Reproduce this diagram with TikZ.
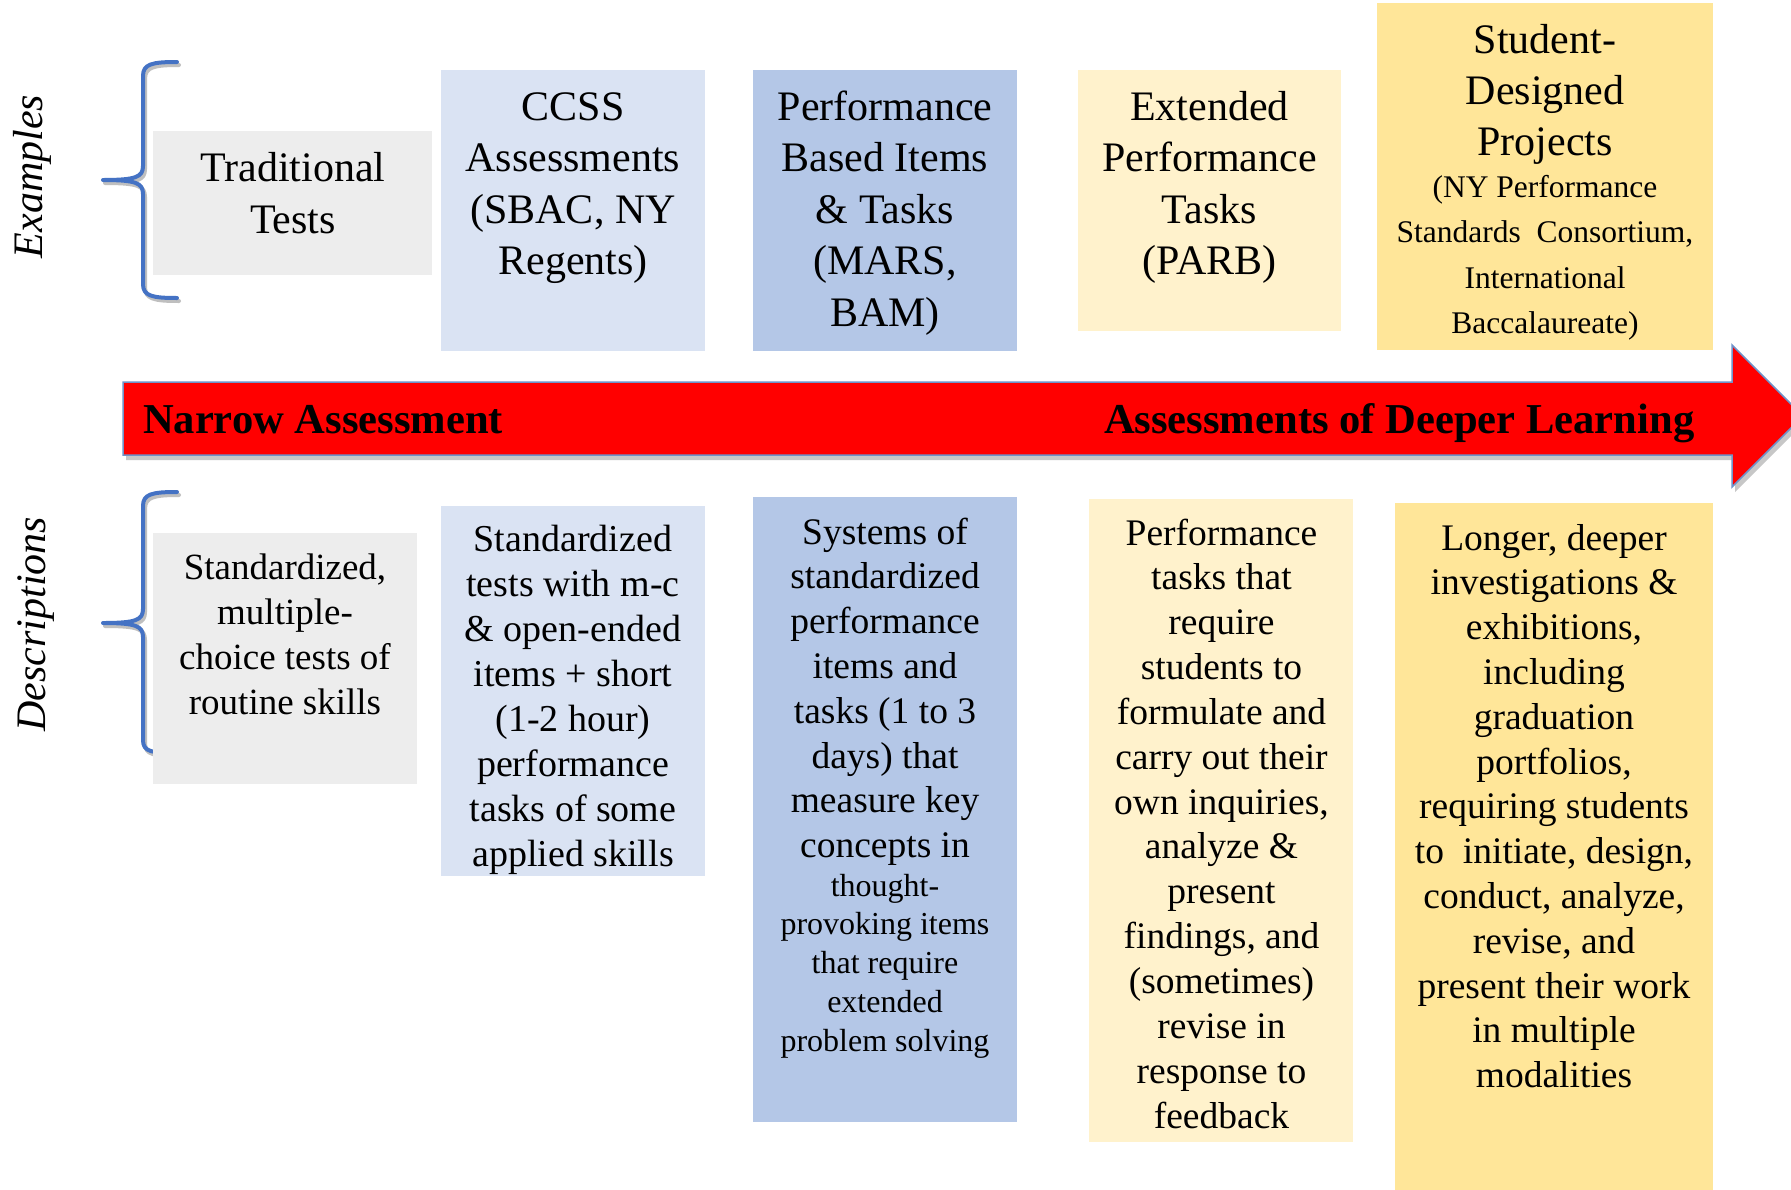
\documentclass[tikz,border=0pt]{standalone}
\usepackage{fontspec}
\setmainfont{Liberation Serif}
\definecolor{cTrad}{HTML}{EDEDED}
\definecolor{cCcss}{HTML}{DAE3F3}
\definecolor{cPerf}{HTML}{B4C7E7}
\definecolor{cExt}{HTML}{FFF2CC}
\definecolor{cStud}{HTML}{FFE699}
\definecolor{cBrace}{HTML}{4472C4}
\definecolor{cArrowEdge}{HTML}{6F93C9}
\newcommand\txtblk[4]{\begin{minipage}[t]{#1pt}\centering\fontsize{#2}{#3}\selectfont #4\end{minipage}}
\begin{document}
\begin{tikzpicture}[x=1pt,y=-1pt,
  boxnode/.style={rectangle, draw=none, inner sep=0, outer sep=0, anchor=north west},
  lbl/.style={inner sep=0, outer sep=0, anchor=base},
  bracepath/.style={line width=4pt, line cap=round, line join=round},
  braceshadow/.style={line width=4pt, line cap=round, line join=round, draw=black!25}]
\useasboundingbox (0,0) rectangle (1791,1189);
\fill[white] (0,0) rectangle (1791,1189);

% ---- braces ----
\draw[braceshadow, shift={(2,3)}] (177,62) .. controls (152,62) and (143,64) .. (143,76) -- (143,166) .. controls (143,177) and (136,180) .. (103,180) .. controls (136,180) and (143,183) .. (143,194) -- (143,284) .. controls (143,296) and (152,298) .. (177,298);
\draw[bracepath, cBrace] (177,62) .. controls (152,62) and (143,64) .. (143,76) -- (143,166) .. controls (143,177) and (136,180) .. (103,180) .. controls (136,180) and (143,183) .. (143,194) -- (143,284) .. controls (143,296) and (152,298) .. (177,298);
\draw[braceshadow, shift={(2,3)}] (177,492) .. controls (152,492) and (143,494) .. (143,506) -- (143,609) .. controls (143,620) and (136,623) .. (103,623) .. controls (136,623) and (143,626) .. (143,637) -- (143,740) .. controls (143,752) and (152,753) .. (177,753);
\draw[bracepath, cBrace] (177,492) .. controls (152,492) and (143,494) .. (143,506) -- (143,609) .. controls (143,620) and (136,623) .. (103,623) .. controls (136,623) and (143,626) .. (143,637) -- (143,740) .. controls (143,752) and (152,753) .. (177,753);

% ---- side labels ----
\node[lbl, rotate=90] (lex) at (42,176.5) {\fontsize{42}{50}\selectfont\itshape Examples};
\node[lbl, rotate=90] (lde) at (45,624) {\fontsize{42}{50}\selectfont\itshape Descriptions};

% ---- top boxes ----
\node[boxnode, fill=cTrad, minimum width=279, minimum height=144] (btrad) at (153,131) {};
\node[boxnode, fill=cCcss, minimum width=264, minimum height=281] (bccss) at (441,70) {};
\node[boxnode, fill=cPerf, minimum width=264, minimum height=281] (bperf) at (753,70) {};
\node[boxnode, fill=cExt, minimum width=263, minimum height=261] (bext) at (1078,70) {};
\node[boxnode, fill=cStud, minimum width=336, minimum height=347] (bstud) at (1377,3) {};

\node[lbl] (ttrad) at (293,181) {\txtblk{270}{42}{52.5}{Traditional\\Tests}};
\node[lbl] (tccss) at (573,120) {\txtblk{260}{42}{51.5}{CCSS\\Assessments\\(SBAC, NY\\Regents)}};
\node[lbl] (tperf) at (885,120) {\txtblk{260}{42}{51.5}{Performance\\Based Items\\\& Tasks\\(MARS,\\BAM)}};
\node[lbl] (text) at (1209.5,120) {\txtblk{260}{42}{51.5}{Extended\\Performance\\Tasks\\(PARB)}};
\node[lbl] (tstud) at (1545,53) {\txtblk{330}{42}{51}{Student-\\Designed\\Projects}};
\node[lbl] (tstud2) at (1545,197) {\txtblk{330}{31.5}{45.5}{(NY Performance\\Standards\ \ Consortium,\\International\\Baccalaureate)}};

% ---- arrow ----
\fill[black!22, shift={(3,5)}] (123,382) -- (1732,382) -- (1732,345) -- (1803,416) -- (1732,487) -- (1732,455) -- (123,455) -- cycle;
\filldraw[fill=red, draw=cArrowEdge, line width=1.5pt, line join=miter] (123,382) -- (1732,382) -- (1732,345) -- (1803,416) -- (1732,487) -- (1732,455) -- (123,455) -- cycle;
\node[lbl, anchor=base west] (narrow) at (143,433) {\fontsize{42.6}{50}\selectfont\bfseries Narrow Assessment};
\node[lbl, anchor=base west] (deeper) at (1104,433) {\fontsize{42.6}{50}\selectfont\bfseries Assessments of Deeper Learning};

% ---- description boxes ----
\node[boxnode, fill=cTrad, minimum width=264, minimum height=251] (dtrad) at (153,533) {};
\node[boxnode, fill=cCcss, minimum width=264, minimum height=370] (dccss) at (441,506) {};
\node[boxnode, fill=cPerf, minimum width=264, minimum height=625] (dperf) at (753,497) {};
\node[boxnode, fill=cExt, minimum width=264, minimum height=643] (dext) at (1089,499) {};
\node[boxnode, fill=cStud, minimum width=318, minimum height=690] (dstud) at (1395,503) {};

\node[lbl] (xtrad) at (285,579) {\txtblk{260}{37}{45}{Standardized,\\multiple-\\choice tests of\\routine skills}};
\node[lbl] (xccss) at (573,551) {\txtblk{260}{38}{45}{Standardized\\tests with m-c\\\& open-ended\\items + short\\(1-2 hour)\\performance\\tasks of some\\applied skills}};
\node[lbl] (xperf) at (885,544) {\txtblk{260}{37.5}{44.8}{Systems of\\standardized\\performance\\items and\\tasks (1 to 3\\days) that\\measure key\\concepts in}};
\node[lbl] (xperf2) at (885,896) {\txtblk{260}{32}{38.8}{thought-\\provoking items\\that require\\extended\\problem solving}};
\node[lbl] (xext) at (1221.5,545) {\txtblk{260}{37.5}{44.85}{Performance\\tasks that\\require\\students to\\formulate and\\carry out their\\own inquiries,\\analyze \&\\present\\findings, and\\(sometimes)\\revise in\\response to\\feedback}};
\node[lbl] (xstud) at (1554,550) {\txtblk{316}{37.5}{44.8}{Longer, deeper\\investigations \&\\exhibitions,\\including\\graduation\\portfolios,\\requiring students\\to\ \ initiate, design,\\conduct, analyze,\\revise, and\\present their work\\in multiple\\modalities}};
\end{tikzpicture}
\end{document}
